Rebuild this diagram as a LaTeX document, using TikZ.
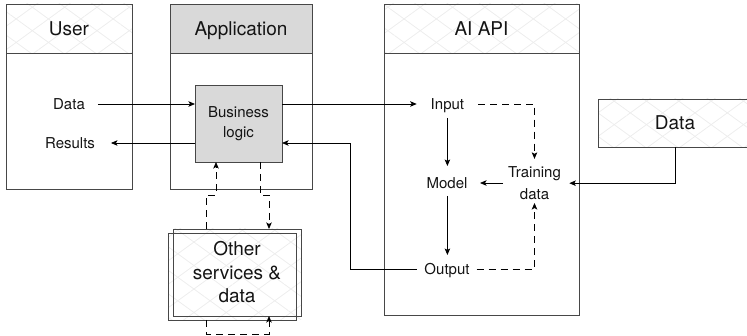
\documentclass[tikz,border=0pt]{standalone}
\usepackage{fontspec}
\setmainfont{TeX Gyre Heros}
\usetikzlibrary{arrows.meta,patterns.meta}
\begin{document}
\begin{tikzpicture}[x=1pt,y=-1pt,
  boxline/.style={draw=black!72,line width=0.9pt,inner sep=0pt,outer sep=0pt},
  hatchA/.style={pattern={Lines[angle=36,distance=19pt,line width=0.8pt]},pattern color=black!7},
  hatchB/.style={pattern={Lines[angle=-36,distance=19pt,line width=0.8pt]},pattern color=black!7},
  lbl/.style={inner sep=0pt,outer sep=0pt,font=\fontsize{15}{20}\selectfont,text height=10.8pt,text depth=0pt,text=black!92},
  big/.style={font=\fontsize{19}{23.5}\selectfont,text=black!92},
  hdr/.style={boxline,big,text height=13.7pt,text depth=0pt},
  arr/.style={-{Stealth[length=6.5pt,width=5.5pt,inset=1.5pt]},line width=0.8pt,black},
  darr/.style={arr,dash pattern=on 7pt off 5pt}
]
\useasboundingbox (0,0) rectangle (747,336);
% hatched backgrounds
\foreach \h in {hatchA,hatchB}{
  \path[\h] (6,4) rectangle (132,53);
  \path[\h] (384,4) rectangle (579,53);
  \path[\h] (598,99) rectangle (752,147);
  \path[\h] (168,229) rectangle (301,320);
}
% outer boxes
\node[boxline,minimum width=126pt,minimum height=185pt] (user) at (69,96.5) {};
\node[hdr,minimum width=126pt,minimum height=49pt] (userh) at (69,28.5) {User};
\node[boxline,minimum width=142pt,minimum height=185pt] (app) at (241,96.5) {};
\node[hdr,fill=black!15,minimum width=142pt,minimum height=49pt] (apph) at (241,28.5) {Application};
\node[boxline,minimum width=195pt,minimum height=311pt] (ai) at (481.5,159.5) {};
\node[hdr,minimum width=195pt,minimum height=49pt] (aih) at (481.5,28.5) {AI API};
% inner boxes
\node[boxline,fill=black!15,minimum width=87pt,minimum height=77pt,align=center,
      font=\fontsize{15}{20}\selectfont,text=black!92] (bl) at (238.5,123.5) {Business\\logic};
\node[boxline,big,minimum width=154pt,minimum height=48pt] (rdata) at (675,123) {Data};
\node[boxline,minimum width=128pt,minimum height=87pt] (r2) at (232,276.5) {};
\node[boxline,big,minimum width=128pt,minimum height=87pt,align=center] (r1) at (237,272.5) {Other\\services \&\\data};
% labels
\node[lbl] (udata) at (69,104) {Data};
\node[lbl] (ures) at (70,143) {Results};
\node[lbl] (input) at (447.4,104) {Input};
\node[lbl] (model) at (447,183) {Model};
\node[inner sep=0pt,outer sep=0pt,align=center,font=\fontsize{15}{21.5}\selectfont,text=black!92] (train) at (534.5,183.2) {Training\\data};
\node[lbl] (output) at (447,269) {Output};
% helper coordinates
\coordinate (turn) at (350,0);
\coordinate (dl1) at (206,195);
\coordinate (dl2) at (216,195);
\coordinate (dr1) at (260,195);
\coordinate (dr2) at (269,195);
\coordinate (db1) at (206,334);
\coordinate (db2) at (269,334);
% connectors
\draw[arr,shorten <=13pt] (udata.east) -- (udata.east -| bl.west);
\draw[arr,shorten >=16pt] (bl.west |- ures.east) -- (ures.east);
\draw[arr,shorten >=14pt] (bl.east |- input.west) -- (input.west);
\draw[arr,shorten <=8.6pt,shorten >=11.6pt] (input.south) -- (input.south |- model.north);
\draw[arr,shorten <=7.6pt,shorten >=8.6pt] (input.south |- model.south) -- (input.south |- output.north);
\draw[arr,shorten <=5pt,shorten >=12.6pt] (train.west |- model.east) -- (model.east);
\draw[darr,shorten <=14pt,shorten >=8pt] (input.east) -| (train.north);
\draw[darr,shorten <=7pt,shorten >=3.5pt] (output.east) -| (train.south);
\draw[arr,shorten <=7.5pt] (output.west) -- (output.west -| turn) -- (turn |- ures) -- (bl.east |- ures);
\draw[arr,shorten >=8.4pt] (rdata.south) |- (train.east);
\draw[darr] (dl1 |- r1.north) -- (dl1) -- (dl2) -- (dl2 |- bl.south);
\draw[darr] (dr1 |- bl.south) -- (dr1) -- (dr2) -- (dr2 |- r1.north);
\draw[darr] (db1 |- r2.south) -- (db1) -- (db2) -- (db2 |- r1.south);
\end{tikzpicture}
\end{document}
